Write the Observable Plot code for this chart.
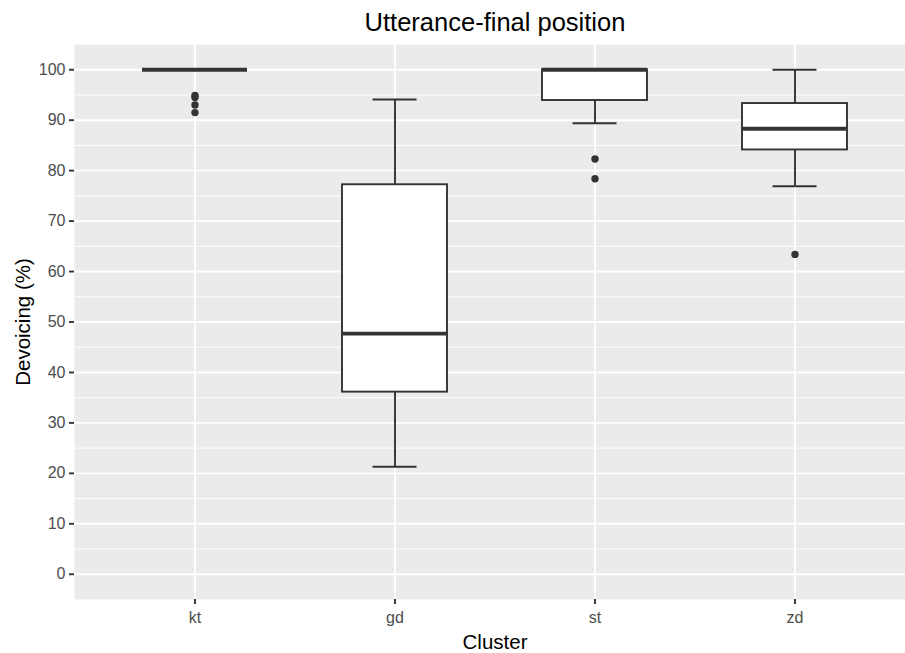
<!DOCTYPE html>
<html>
<head>
<meta charset="utf-8">
<script src="https://cdn.jsdelivr.net/npm/d3@7"></script>
<script src="https://cdn.jsdelivr.net/npm/@observablehq/plot@0.6"></script>
<style>
  html, body { margin: 0; padding: 0; background: #fff; overflow: hidden; width: 905px; height: 653px; }
  #chart { width: 905px; height: 653px; overflow: hidden; }
  #chart svg { max-width: none !important; }
</style>
</head>
<body>
<div id="chart"></div>
<script>
const clusters = ["kt", "gd", "st", "zd"];
const whiskerLow = [100, 21.3, 89.4, 76.9];
const q1 = [100, 36.1, 93.9, 84.1];
const median = [100, 47.7, 100, 88.3];
const q3 = [100, 77.2, 100, 93.3];
const whiskerHigh = [100, 94.1, 100, 100];

const outlierCluster = ["kt", "kt", "kt", "kt", "st", "st", "zd"];
const outlierValue = [94.9, 94.5, 93.0, 91.5, 82.3, 78.4, 63.4];

const yMajor = [0, 10, 20, 30, 40, 50, 60, 70, 80, 90, 100];
const yMinor = [5, 15, 25, 35, 45, 55, 65, 75, 85, 95];

const titleText = "Utterance-final position";
const xTitle = "Cluster";
const yTitle = "Devoicing (%)";

const boxes = clusters.map((c, i) => ({
  cluster: c, low: whiskerLow[i], q1: q1[i], median: median[i], q3: q3[i], high: whiskerHigh[i]
}));
const outliers = outlierCluster.map((c, i) => ({cluster: c, value: outlierValue[i]}));

const ink = "#333333";
const lw = 1.9;
const chart = Plot.plot({
  width: 915,
  height: 653,
  marginLeft: 74,
  marginRight: 0,
  marginTop: 44,
  marginBottom: 54,
  style: {fontFamily: "'Liberation Sans', Arial, Helvetica, sans-serif", background: "white", overflow: "hidden", maxWidth: "none"},
  x: {type: "band", domain: clusters, paddingInner: 0.475, paddingOuter: 0.3375, axis: null},
  y: {domain: [-5, 105], axis: null},
  marks: [
    Plot.frame({fill: "#EBEBEB", stroke: null}),
    Plot.gridY(yMinor, {stroke: "white", strokeOpacity: 1, strokeWidth: 0.95}),
    Plot.gridY(yMajor, {stroke: "white", strokeOpacity: 1, strokeWidth: lw}),
    Plot.gridX(clusters, {stroke: "white", strokeOpacity: 1, strokeWidth: lw}),
    Plot.axisY(yMajor, {tickSize: 5, tickPadding: 4, fontSize: 16, stroke: ink, fill: "#4D4D4D", strokeWidth: lw, label: null}),
    Plot.axisX(clusters, {tickSize: 5, tickPadding: 7.5, fontSize: 16, stroke: ink, fill: "#4D4D4D", strokeWidth: lw, label: null}),
    Plot.tickY(boxes, {x: "cluster", y: "low", stroke: ink, strokeWidth: lw, insetLeft: 30.5, insetRight: 30.5}),
    Plot.tickY(boxes, {x: "cluster", y: "high", stroke: ink, strokeWidth: lw, insetLeft: 30.5, insetRight: 30.5}),
    Plot.ruleX(boxes, {x: "cluster", y1: "low", y2: "q1", stroke: ink, strokeWidth: lw}),
    Plot.ruleX(boxes, {x: "cluster", y1: "q3", y2: "high", stroke: ink, strokeWidth: lw}),
    Plot.barY(boxes, {x: "cluster", y1: "q1", y2: "q3", fill: "white", stroke: ink, strokeWidth: lw}),
    Plot.tickY(boxes, {x: "cluster", y: "median", stroke: ink, strokeWidth: 3.8}),
    Plot.dot(outliers, {x: "cluster", y: "value", r: 3.7, fill: ink, stroke: null}),
    Plot.text([titleText], {frameAnchor: "top", textAnchor: "middle", lineAnchor: "middle", dy: -21.7, fontSize: 25.5, fill: "black"}),
    Plot.text([xTitle], {frameAnchor: "bottom", textAnchor: "middle", lineAnchor: "middle", dy: 43, fontSize: 20.5, fill: "black"}),
    Plot.text([yTitle], {frameAnchor: "left", textAnchor: "middle", lineAnchor: "middle", dx: -51, rotate: -90, fontSize: 20.5, fill: "black"})
  ]
});
document.getElementById("chart").appendChild(chart);
</script>
</body>
</html>
